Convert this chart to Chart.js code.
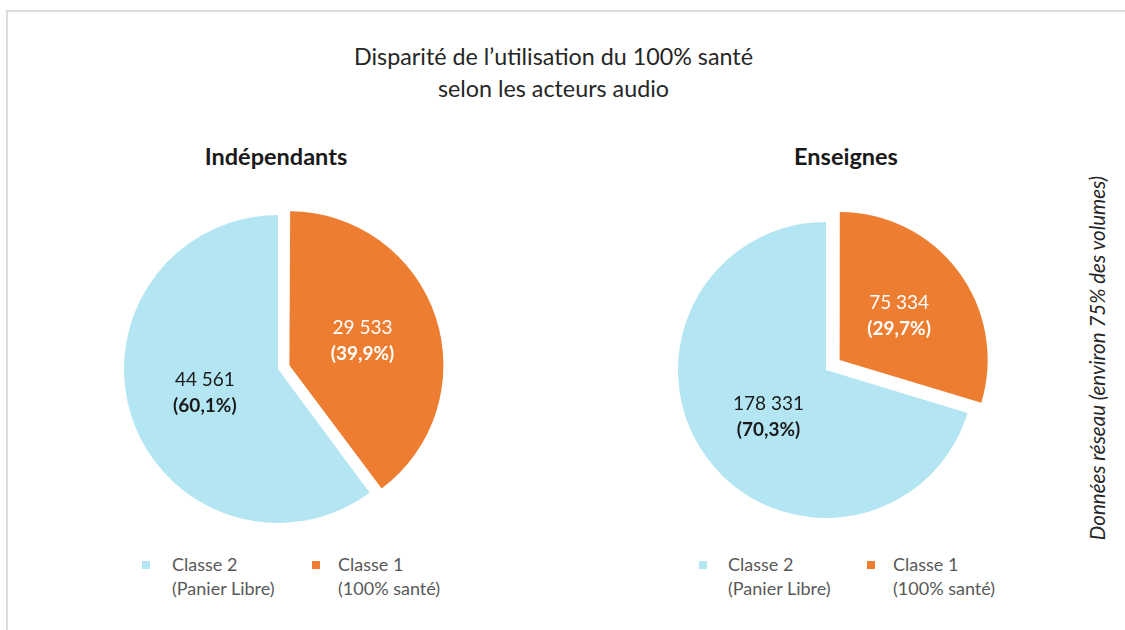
<!DOCTYPE html>
<html>
<head>
<meta charset="utf-8">
<script src="https://cdn.jsdelivr.net/npm/chart.js@4"></script>
<style>
  body { margin: 0; width: 1125px; height: 630px; background: #fff; position: relative; overflow: hidden; font-family: Lato, "Noto Sans", sans-serif; }
  .frame { position: absolute; left: 6px; top: 10px; right: -10px; bottom: -10px; border-top: 2px solid #dcdcdc; border-left: 2px solid #dcdcdc; }
  .title { position: absolute; left: 0; width: 1107px; top: 40px; text-align: center; font-size: 23.3px; line-height: 32px; color: #262626; }
  .sub { position: absolute; top: 142px; width: 300px; text-align: center; font-weight: bold; font-size: 23.5px; color: #1a1a1a; }
  .side { position: absolute; left: 1097px; top: 358px; transform: translate(-50%, -50%) rotate(-90deg); white-space: nowrap; font-style: italic; font-size: 20.5px; color: #262626; }
  canvas { position: absolute; }
  .legend { position: absolute; top: 552px; font-size: 18px; line-height: 24px; color: #595959; }
  .legend .item { position: absolute; top: 0; white-space: nowrap; }
  .legend .box { position: absolute; width: 8px; height: 8px; top: 9px; }
</style>
</head>
<body>
<div class="frame"></div>
<div class="title">Disparité de l’utilisation du 100% santé<br>selon les acteurs audio</div>
<div class="sub" style="left:126px">Indépendants</div>
<div class="sub" style="left:696px">Enseignes</div>
<div class="side">Données réseau (environ 75% des volumes)</div>

<canvas id="pieLeft" width="360" height="360" style="left:98px;top:189px"></canvas>
<canvas id="pieRight" width="360" height="360" style="left:646px;top:190px"></canvas>

<div class="legend" id="legLeft" style="left:0"></div>
<div class="legend" id="legRight" style="left:0"></div>

<script>
// slices drawn clockwise from 12 o'clock: Classe 1 first, then Classe 2
const classes = ['Classe 1', 'Classe 2'];
const classNotes = ['(100% santé)', '(Panier Libre)'];
const colors = ['#ED7D31', '#B3E6F2'];

const independantsValues = [29533, 44561];
const independantsPct = ['39,9%', '60,1%'];
const enseignesValues = [75334, 178331];
const enseignesPct = ['29,7%', '70,3%'];

const labelColors = ['#ffffff', '#1a1a1a'];

function fmt(n) {
  return String(n).replace(/\B(?=(\d{3})+(?!\d))/g, ' ');
}

// chart.js grows an offset arc's radius a bit; pull it back so the
// exploded slice keeps the same radius as the rest of the pie
const keepRadius = {
  id: 'keepRadius',
  afterDatasetUpdate(chart) {
    chart.getDatasetMeta(0).data.forEach(arc => {
      const off = (arc.options.offset || 0) / 4;
      if (!off) return;
      const circ = arc.endAngle - arc.startAngle;
      const fix = 1 - Math.sin(Math.min(Math.PI, circ));
      arc.outerRadius -= off * fix;
    });
  }
};

// value + (percent) drawn at the middle of each slice
function sliceLabels(pcts, nudge) {
  return {
    id: 'sliceLabels',
    afterDatasetsDraw(chart) {
      const ctx = chart.ctx;
      const meta = chart.getDatasetMeta(0);
      const values = chart.data.datasets[0].data;
      const r = chart.options.radius;
      meta.data.forEach((arc, i) => {
        const off = (arc.options.offset || 0) / 4; // arc draws offset/4
        const mid = (arc.startAngle + arc.endAngle) / 2;
        const d = off + r * 0.5;
        const x = arc.x + Math.cos(mid) * d + nudge[i][0];
        const y = arc.y + Math.sin(mid) * d + nudge[i][1];
        ctx.save();
        ctx.fillStyle = labelColors[i];
        ctx.textAlign = 'center';
        ctx.textBaseline = 'middle';
        ctx.font = '19px Lato, "Noto Sans", sans-serif';
        ctx.fillText(fmt(values[i]), x, y - 13);
        ctx.font = 'bold 19px Lato, "Noto Sans", sans-serif';
        ctx.fillText('(' + pcts[i] + ')', x, y + 13);
        ctx.restore();
      });
    }
  };
}

function makePie(id, values, pcts, radius, offsets, nudge) {
  return new Chart(document.getElementById(id), {
    type: 'pie',
    data: {
      labels: classes,
      datasets: [{
        data: values,
        backgroundColor: colors,
        borderWidth: 0,
        offset: offsets,
      }]
    },
    options: {
      responsive: false,
      animation: false,
      radius: radius,
      layout: { padding: 0 },
      plugins: { legend: { display: false }, tooltip: { enabled: false } }
    },
    plugins: [keepRadius, sliceLabels(pcts, nudge)]
  });
}

makePie('pieLeft', independantsValues, independantsPct, 154, [48, 0], [[0, 0], [0, 0]]);
makePie('pieRight', enseignesValues, enseignesPct, 148, [68, 0], [[0, 0], [2, 3]]);

// legend: Classe 2 then Classe 1, two-line labels
function buildLegend(id, xs) {
  const el = document.getElementById(id);
  [1, 0].forEach((i, k) => {
    const item = document.createElement('div');
    item.className = 'item';
    item.style.left = xs[k][1] + 'px';
    item.innerHTML = classes[i] + '<br>' + classNotes[i];
    const box = document.createElement('div');
    box.className = 'box';
    box.style.background = colors[i];
    box.style.left = xs[k][0] + 'px';
    el.appendChild(box);
    el.appendChild(item);
  });
}
buildLegend('legLeft', [[142, 172], [312, 338]]);
buildLegend('legRight', [[699, 728], [867, 893]]);
</script>
</body>
</html>
